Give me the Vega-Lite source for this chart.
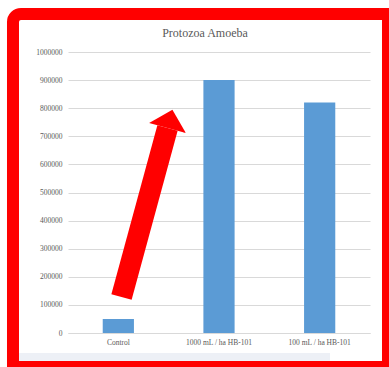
{
  "$schema": "https://vega.github.io/schema/vega-lite/v6.json",
  "width": 302,
  "height": 281,
  "autosize": {"type": "none"},
  "padding": {"left": 68, "top": 52, "right": 19, "bottom": 34},
  "background": "white",
  "title": {
    "text": "Protozoa Amoeba",
    "font": "Liberation Serif",
    "fontSize": 12,
    "fontWeight": "normal",
    "color": "#595959",
    "anchor": "middle",
    "dx": -14,
    "offset": -32
  },
  "layer": [
    {
      "data": {
        "values": [
          {"treatment": "Control", "amoeba": 50000},
          {"treatment": "1000 mL / ha HB-101", "amoeba": 900000},
          {"treatment": "100 mL / ha HB-101", "amoeba": 820000}
        ]
      },
      "mark": {"type": "bar", "color": "#5b9bd5"},
      "encoding": {
        "x": {
          "field": "treatment",
          "type": "nominal",
          "sort": null,
          "scale": {"paddingInner": 0.69, "paddingOuter": 0.345},
          "axis": {
            "title": null,
            "labelAngle": 0,
            "labelFont": "Liberation Serif",
            "labelFontSize": 7.5,
            "labelColor": "#595959",
            "labelPadding": 5,
            "ticks": false,
            "domainColor": "#d9d9d9"
          }
        },
        "y": {
          "field": "amoeba",
          "type": "quantitative",
          "scale": {"domain": [0, 1000000], "nice": false},
          "axis": {
            "title": null,
            "values": [0, 100000, 200000, 300000, 400000, 500000, 600000, 700000, 800000, 900000, 1000000],
            "format": "d",
            "labelFont": "Liberation Serif",
            "labelFontSize": 7.5,
            "labelColor": "#595959",
            "labelPadding": 6,
            "ticks": false,
            "domain": false,
            "gridColor": "#d9d9d9"
          }
        }
      }
    },
    {
      "data": {"values": [{}]},
      "layer": [
        {
          "mark": {"type": "rect", "fill": "#edf0f6", "clip": false},
          "encoding": {
            "x": {"datum": -0.4868, "type": "quantitative", "scale": {"domain": [0, 3], "nice": false, "zero": false}, "axis": null},
            "x2": {"datum": 2.6026},
            "y": {"datum": -71174, "type": "quantitative", "scale": {"domain": [0, 1000000], "nice": false}, "axis": null},
            "y2": {"datum": -99644}
          }
        },
        {
          "mark": {"type": "rect", "fillOpacity": 0, "stroke": "#ff0000", "strokeWidth": 12, "cornerRadiusTopLeft": 8, "clip": false},
          "encoding": {
            "x": {"datum": -0.5464, "type": "quantitative", "scale": {"domain": [0, 3], "nice": false, "zero": false}, "axis": null},
            "x2": {"datum": 3.1788},
            "y": {"datum": 1135231, "type": "quantitative", "scale": {"domain": [0, 1000000], "nice": false}, "axis": null},
            "y2": {"datum": -120996}
          }
        },
        {
          "mark": {"type": "rule", "color": "#ff0000", "strokeWidth": 21, "strokeCap": "butt", "clip": false},
          "encoding": {
            "x": {"datum": 0.5315, "type": "quantitative", "scale": {"domain": [0, 3], "nice": false, "zero": false}, "axis": null},
            "x2": {"datum": 0.9884},
            "y": {"datum": 128114, "type": "quantitative", "scale": {"domain": [0, 1000000], "nice": false}, "axis": null},
            "y2": {"datum": 729537}
          }
        },
        {
          "mark": {"type": "point", "shape": "M0,-1L1,0L-1,0Z", "filled": true, "color": "#ff0000", "opacity": 1, "size": 1444, "angle": 15, "clip": false},
          "encoding": {
            "x": {"datum": 0.9884, "type": "quantitative", "scale": {"domain": [0, 3], "nice": false, "zero": false}, "axis": null},
            "y": {"datum": 729537, "type": "quantitative", "scale": {"domain": [0, 1000000], "nice": false}, "axis": null}
          }
        }
      ]
    }
  ],
  "resolve": {"scale": {"x": "independent", "y": "independent"}},
  "config": {"view": {"stroke": null}}
}
